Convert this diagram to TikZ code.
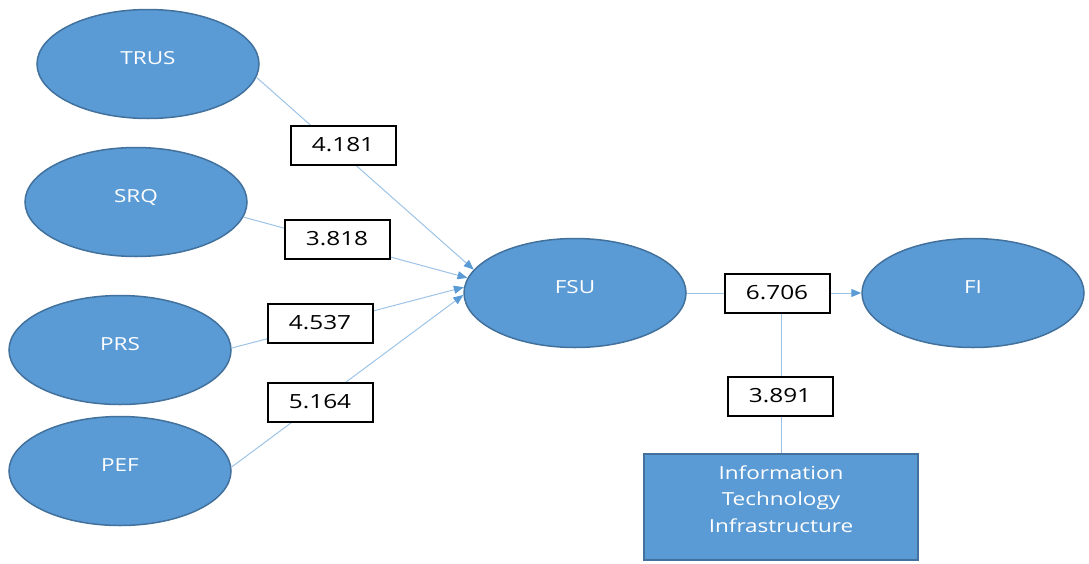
\documentclass[tikz,border=0pt]{standalone}
\usepackage{fontspec}
\setmainfont{Open Sans}[FakeStretch=1.25]
\usetikzlibrary{shapes.geometric,arrows.meta}
\definecolor{nodeblue}{HTML}{5B9BD5}
\definecolor{edgeblue}{HTML}{41719C}
\definecolor{lineblue}{HTML}{9DC3E6}
\tikzset{
  construct/.style={ellipse, draw=edgeblue, fill=nodeblue, line width=1.5pt,
    minimum width=222pt, minimum height=109pt, inner sep=0pt, text=white,
    font=\fontsize{18}{22}\selectfont, text height=13pt, text depth=13pt},
  itbox/.style={rectangle, draw=edgeblue, fill=nodeblue, line width=2pt,
    minimum width=274pt, minimum height=106pt, inner sep=0pt},
  ittext/.style={text=white, align=center, inner sep=0pt,
    font=\fontsize{18}{26.5}\selectfont},
  coef/.style={draw=black, fill=white, line width=2pt, minimum width=105pt,
    minimum height=39pt, inner sep=0pt, font=\fontsize{19.5}{22}\selectfont},
  link/.style={draw=lineblue, line width=1pt},
  linkarr/.style={link, -{Triangle[length=10pt,width=8pt,color=nodeblue]}}
}
\begin{document}
\begin{tikzpicture}[x=1pt,y=-1pt]
\useasboundingbox (0,0) rectangle (1089,563);

\node[construct] (trus) at (148,64) {TRUS};
\node[construct] (srq) at (136,202) {SRQ};
\node[construct] (prs) at (120,350) {PRS};
\node[construct] (pef) at (120,471) {PEF};
\node[construct] (fsu) at (575,293) {FSU};
\node[construct] (fi) at (973,293) {FI};

\node[itbox] (it) at (781,507) {};
\node[ittext] (itlbl) at (781,499) {Information\\Technology\\Infrastructure};

\draw[linkarr] (trus.-7) -- (fsu.167);
\draw[linkarr] (srq.-8) -- (fsu.172);
\draw[linkarr] (prs.1) -- (fsu.177);
\draw[linkarr] (pef.2) -- (fsu.181);
\draw[linkarr] (fsu.east) -- (fi.west);

\coordinate (mod) at (it.north |- fsu.east);
\draw[link] (it.north) -- (mod);

\node[coef] (trusfsu) at (343,145) {4.181};
\node[coef] (srqfsu) at (337,239) {3.818};
\node[coef] (prsfsu) at (320,323) {4.537};
\node[coef] (peffsu) at (320,402) {5.164};
\node[coef] (fsufi) at (777,293) {6.706};
\node[coef] (itmod) at (780,396) {3.891};
\end{tikzpicture}
\end{document}
